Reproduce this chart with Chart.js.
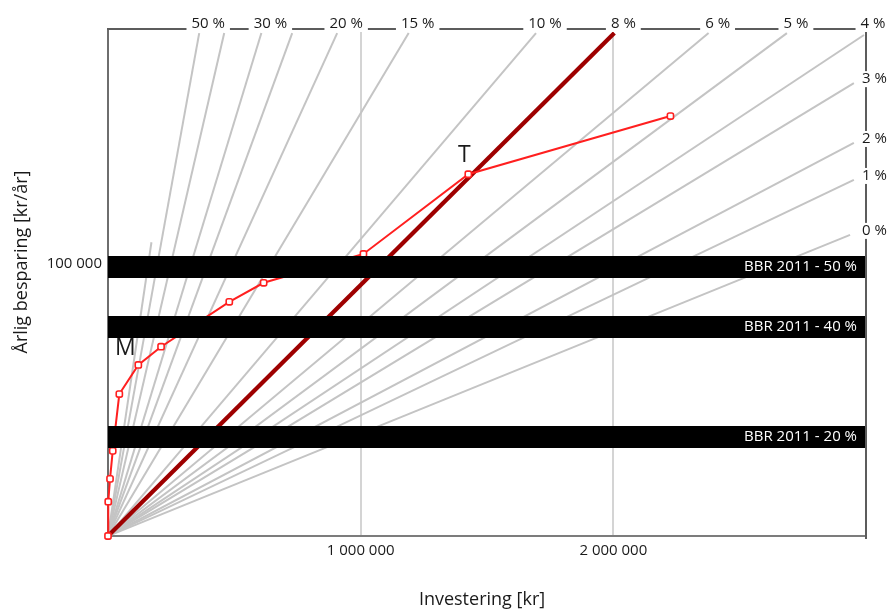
<!DOCTYPE html>
<html>
<head>
<meta charset="utf-8">
<script src="https://cdn.jsdelivr.net/npm/chart.js@4/dist/chart.umd.min.js"></script>
<style>
  html, body { margin: 0; padding: 0; background: #fff; }
  #wrap { width: 890px; height: 612px; }
</style>
</head>
<body>
<div id="wrap"><canvas id="c" width="890" height="612"></canvas></div>
<script>
const FONT = '"Open Sans", "DejaVu Sans", sans-serif';

// Åtgärdskurva: ackumulerad investering [kr] och årlig besparing [kr/år]
const measureInvestment = [0, 1000, 8000, 18700, 44800, 120000, 210000, 480000, 616000, 1011000, 1426000, 2226000];
const measureSaving     = [0, 12600, 21000, 31300, 52200, 62900, 69600, 86100, 93100, 103700, 133000, 154400];
const measureMarks      = ['', '', '', '', '', 'M', '', '', '', '', 'T', ''];

// Räntelinjer (från origo till slutpunkt)
const rayLabels     = ['', '50 %', '', '30 %', '', '20 %', '15 %', '10 %', '8 %', '6 %', '5 %', '4 %', '3 %', '2 %', '1 %', '0 %'];
const rayEndInvest  = [172000, 361000, 460000, 607000, 729000, 907000, 1190000, 1694000, 2004000, 2377000, 2687000, 2992000, 2952000, 2952000, 2952000, 2937000];
const rayEndSaving  = [108000, 184900, 184900, 184900, 184900, 184900, 184900, 184900, 184900, 184900, 184900, 184200, 166500, 144500, 130900, 110700];
const highlightRay  = '8 %';

// Energikrav enligt BBR 2011
const bandLabels = ['BBR 2011 - 50 %', 'BBR 2011 - 40 %', 'BBR 2011 - 20 %'];
const bandSaving = [98900, 76800, 36400];

// Axlar
const xTicks = [1000000, 2000000];
const yTicks = [100000];
const X_MAX = 3000000;
const Y_MAX = 186400;

const fmt = v => String(v).replace(/\B(?=(\d{3})+(?!\d))/g, ' ');

const datasets = [];

bandLabels.forEach((name, i) => {
  datasets.push({
    label: name,
    data: [{ x: 0, y: bandSaving[i] }, { x: X_MAX, y: bandSaving[i] }],
    showLine: true,
    borderColor: '#000',
    borderWidth: 22,
    borderCapStyle: 'butt',
    pointRadius: 0,
    order: 0
  });
});

datasets.push({
  label: 'Åtgärder',
  data: measureInvestment.map((x, i) => ({ x, y: measureSaving[i] })),
  showLine: true,
  borderColor: '#ff1f1f',
  borderWidth: 2,
  pointStyle: 'rectRounded',
  pointRadius: 3.6,
  pointBorderWidth: 1.6,
  pointBackgroundColor: '#fff',
  pointBorderColor: '#ff1f1f',
  order: 1,
  clip: 8
});

rayLabels.forEach((name, i) => {
  const hi = name === highlightRay;
  datasets.push({
    label: name || 'ray' + i,
    data: [{ x: 0, y: 0 }, { x: rayEndInvest[i], y: rayEndSaving[i] }],
    showLine: true,
    borderColor: hi ? '#9e0000' : '#c4c4c4',
    borderWidth: hi ? 4.2 : 2,
    pointRadius: 0,
    order: hi ? 2 : 3
  });
});

const backdrop = {
  id: 'backdrop',
  beforeDraw(chart) {
    const c = chart.ctx;
    c.save();
    c.fillStyle = '#fff';
    c.fillRect(0, 0, chart.width, chart.height);
    c.restore();
  }
};

function labelWithGap(c, text, x, y, align) {
  c.font = '15px ' + FONT;
  const w = c.measureText(text).width;
  const x0 = align === 'center' ? x - w / 2 : x;
  c.fillStyle = '#fff';
  c.fillRect(x0 - 5, y - 8, w + 10, 16);
  c.fillStyle = '#1a1a1a';
  c.textAlign = 'left';
  c.textBaseline = 'middle';
  c.fillText(text, x0, y);
}

const annotations = {
  id: 'annotations',
  afterDraw(chart) {
    const c = chart.ctx;
    const { left, right, top, bottom } = chart.chartArea;
    const xs = chart.scales.x, ys = chart.scales.y;
    c.save();

    // ram överst och till höger
    c.strokeStyle = '#5c5c5c';
    c.lineWidth = 2;
    c.beginPath();
    c.moveTo(left - 1, top);
    c.lineTo(right, top);
    c.moveTo(right, top);
    c.lineTo(right, bottom + 3);
    c.stroke();

    // räntelinjernas etiketter
    rayLabels.forEach((name, i) => {
      if (!name) return;
      const px = xs.getPixelForValue(rayEndInvest[i]);
      const py = ys.getPixelForValue(rayEndSaving[i]);
      if (py < top + 8) {
        labelWithGap(c, name, px + 9, top - 5, 'center');
      } else {
        labelWithGap(c, name, right - 4, py - 4, 'left');
      }
    });

    // BBR-bandens text
    c.font = '15px ' + FONT;
    c.fillStyle = '#fff';
    c.textAlign = 'right';
    c.textBaseline = 'middle';
    bandLabels.forEach((name, i) => {
      c.fillText(name, right - 9, ys.getPixelForValue(bandSaving[i]));
    });

    // punktbeteckningar
    c.font = '23px ' + FONT;
    c.fillStyle = '#1a1a1a';
    c.textAlign = 'center';
    c.textBaseline = 'middle';
    measureMarks.forEach((m, i) => {
      if (!m) return;
      const px = xs.getPixelForValue(measureInvestment[i]);
      const py = ys.getPixelForValue(measureSaving[i]);
      if (m === 'M') c.fillText(m, px - 13, py - 16);
      else c.fillText(m, px - 4, py - 19);
    });

    // axeltitlar
    c.font = '18px ' + FONT;
    c.fillStyle = '#1a1a1a';
    c.textAlign = 'center';
    c.textBaseline = 'middle';
    c.fillText('Investering [kr]', 482, 600);
    c.save();
    c.translate(22, 262);
    c.rotate(-Math.PI / 2);
    c.fillText('Årlig besparing [kr/år]', 0, 0);
    c.restore();

    c.restore();
  }
};

new Chart(document.getElementById('c'), {
  type: 'scatter',
  data: { datasets },
  plugins: [backdrop, annotations],
  options: {
    responsive: false,
    animation: false,
    events: [],
    layout: { padding: { top: 29, right: 24, left: 0, bottom: 0 } },
    plugins: { legend: { display: false }, tooltip: { enabled: false } },
    scales: {
      x: {
        type: 'linear',
        min: 0,
        max: X_MAX,
        afterBuildTicks: s => { s.ticks = xTicks.map(value => ({ value })); },
        afterFit: s => { s.height = 76; },
        ticks: {
          callback: v => fmt(v),
          font: { family: FONT, size: 15 },
          color: '#1a1a1a',
          padding: 6,
          maxRotation: 0
        },
        grid: { color: '#d4d4d4', lineWidth: 2, drawTicks: false },
        border: { color: '#7c7c7c', width: 2 }
      },
      y: {
        type: 'linear',
        min: 0,
        max: Y_MAX,
        afterBuildTicks: s => { s.ticks = yTicks.map(value => ({ value })); },
        afterFit: s => { s.width = 108; },
        ticks: {
          callback: v => fmt(v),
          font: { family: FONT, size: 15 },
          color: '#1a1a1a',
          padding: 6
        },
        grid: { display: false, drawTicks: false },
        border: { color: '#6e6e6e', width: 2 }
      }
    }
  }
});
</script>
</body>
</html>
